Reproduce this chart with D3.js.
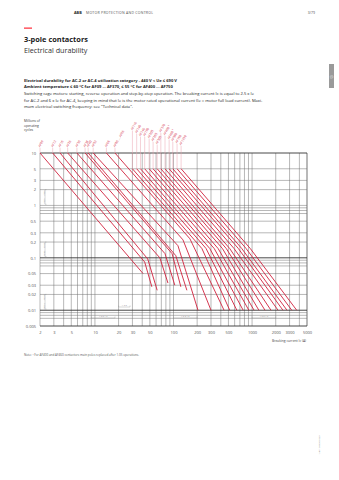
<!DOCTYPE html>
<html><head><meta charset="utf-8">
<script src="https://cdn.jsdelivr.net/npm/d3@7/dist/d3.min.js"></script>
<style>
body{margin:0;background:#fff}
svg{display:block}
text{font-family:"Open Sans","Noto Sans",sans-serif}
</style>
</head><body>
<svg id="chart" width="339" height="480"></svg>
<script>
// ---------- data ----------
const contactorsA = ["AF09","AF12","AF16","AF26","AF30","AF38","AF40","AF52","AF65","AF80 ... AF96"];
const curvesA = [
  [[2,10],[41,0.05]],
  [[2.9,10],[43,0.083],[53,0.028]],
  [[3.6,10],[47,0.095],[62,0.024]],
  [[4.5,10],[67,0.1],[85,0.033]],
  [[5.9,10],[78,0.12],[104,0.03]],
  [[7.5,10],[96,0.12],[124,0.028]],
  [[8.2,10],[107,0.11],[148,0.024]],
  [[9.5,10],[114,0.17],[205,0.01]],
  [[14,10],[132,0.22],[300,0.01]],
  [[18,10],[162,0.23],[440,0.01]]
];
const contactorsB = ["AF116","AF140","AF146","AF190","AF205","AF265","AF305","AF370","AF400 ¹","AF460 ¹","AF580","AF750","AF1350"];
const curvesB = [
  [[30,5],[230,0.15],[520,0.01]],
  [[34,5],[260,0.15],[640,0.01]],
  [[38,5],[290,0.15],[770,0.01]],
  [[43,5],[330,0.15],[910,0.01]],
  [[49,5],[370,0.15],[1060,0.01]],
  [[55,5],[420,0.15],[1220,0.01]],
  [[62,5],[470,0.15],[1460,0.01]],
  [[69,5],[520,0.15],[1740,0.01]],
  [[78,5],[590,0.15],[2140,0.01]],
  [[88,5],[670,0.15],[2470,0.01]],
  [[98,5],[740,0.15],[2780,0.01]],
  [[111,5],[840,0.15],[3200,0.01]],
  [[125,5],[950,0.15],[3700,0.01]]
];
const yTickLabels = [10,5,3,2,1,0.5,0.3,0.2,0.1,0.05,0.03,0.02,0.01,0.005];
const yGridExtra = [0.9,0.8,0.7,0.09,0.08,0.07,0.009,0.008,0.007];
const yGridStrong = [10,0.1,0.01,0.005];
const xTickLabels = [2,3,5,10,20,30,50,100,200,300,500,1000,2000,3000,5000];
const xGrid = [2,3,4,5,6,7,8,9,10,20,30,40,50,60,70,80,90,100,200,300,400,500,600,700,800,900,1000,2000,3000,4000,5000];

// ---------- layout ----------
const svg = d3.select("#chart");
const RED = "#d0213d", PINK = "#eba3ae", GRID = "#707070";
const X0 = 40, X1 = 307, Y0 = 153, Y1 = 326;
const x = d3.scaleLog().domain([2,5000]).range([X0,X1]);
const y = d3.scaleLog().domain([0.005,10]).range([Y1,Y0]);

// header
svg.append("text").attr("x",74).attr("y",14).attr("font-size",3.8).attr("font-weight",700).attr("fill","#222").text("ABB");
svg.append("text").attr("x",86).attr("y",14).attr("font-size",3.5).attr("fill","#555").attr("letter-spacing",0.25).text("MOTOR PROTECTION AND CONTROL");
svg.append("text").attr("x",315).attr("y",14).attr("font-size",3.5).attr("fill","#555").attr("text-anchor","end").text("3/79");
svg.append("rect").attr("x",24).attr("y",27.6).attr("width",8).attr("height",1).attr("fill","#ff000f");
svg.append("text").attr("x",24).attr("y",41.5).attr("font-size",7.4).attr("font-weight",700).attr("fill","#1a1a1a").text("3-pole contactors");
svg.append("text").attr("x",24).attr("y",52.5).attr("font-size",7.2).attr("fill","#333").text("Electrical durability");
svg.append("rect").attr("x",329).attr("y",64).attr("width",5).attr("height",24).attr("fill","#9a9a9a");
svg.append("text").attr("transform","translate(332.6,77) rotate(-90)").attr("font-size",2.6).attr("fill","#fff").attr("text-anchor","middle").text("03");

// description paragraph
const para = [
  ["Electrical durability for AC-2 or AC-4 utilization category - 440 V < Ue ≤ 690 V",700],
  ["Ambient temperature ≤ 60 °C for AF09 ... AF370, ≤ 55 °C for AF400 ... AF750",700],
  ["Switching cage motors: starting, reverse operation and step-by-step operation. The breaking current Ic is equal to 2.5 x Ie",400],
  ["for AC-2 and 6 x Ie for AC-4, keeping in mind that Ie is the motor rated operational current (Ie = motor full load current). Maxi-",400],
  ["mum electrical switching frequency: see \"Technical data\".",400]
];
para.forEach((p,i)=>{
  svg.append("text").attr("x",24).attr("y",81.5+i*6.7).attr("font-size",4.1)
    .attr("font-weight",p[1]).attr("fill","#222").text(p[0]);
});

// y-axis title
["Millions of","operating","cycles"].forEach((t,i)=>{
  svg.append("text").attr("x",24).attr("y",122+i*4.6).attr("font-size",3.3).attr("fill","#333").text(t);
});

// ---------- grid ----------
const g = svg.append("g");
g.append("g").selectAll("line").data(xGrid).join("line")
  .attr("x1",d=>x(d)).attr("x2",d=>x(d)).attr("y1",Y0).attr("y2",Y1)
  .attr("stroke",d=>d===5000?"#a8a8a8":GRID).attr("stroke-width",d=>d===5000?1.6:0.5);
const yGrid = yTickLabels.concat(yGridExtra);
g.append("g").selectAll("line").data(yGrid).join("line")
  .attr("x1",X0).attr("x2",X1).attr("y1",d=>y(d)).attr("y2",d=>y(d))
  .attr("stroke",d=>yGridStrong.includes(d)?"#333":GRID)
  .attr("stroke-width",d=>yGridStrong.includes(d)?0.9:0.5);

// axes (labels)
const fmt = d=>String(d);
const ya = svg.append("g").attr("transform",`translate(${X0-3},0)`)
  .call(d3.axisLeft(y).tickValues(yTickLabels).tickFormat(fmt).tickSize(0).tickPadding(1));
ya.select(".domain").remove();
ya.selectAll("text").attr("font-size",4).attr("fill","#555").attr("font-family","Open Sans");
const xa = svg.append("g").attr("transform",`translate(0,${Y1+3})`)
  .call(d3.axisBottom(x).tickValues(xTickLabels).tickFormat(fmt).tickSize(0).tickPadding(2));
xa.select(".domain").remove();
xa.selectAll("text").attr("font-size",4).attr("fill","#555").attr("font-family","Open Sans");
svg.append("text").attr("x",306).attr("y",342).attr("font-size",3.3).attr("fill","#444")
  .attr("text-anchor","end").text("Breaking current Ic (A)");

// small bracket annotations
function vBracket(v1,v2,label){
  const a=y(v1), b=y(v2), bx=45;
  svg.append("path").attr("d",`M${bx+1.5},${a}H${bx}V${b}H${bx+1.5}`).attr("fill","none").attr("stroke","#999").attr("stroke-width",0.4);
  svg.append("text").attr("transform",`translate(${bx-0.5},${(a+b)/2}) rotate(-90)`).attr("font-size",2.2).attr("fill","#888").attr("text-anchor","middle").text(label);
}
vBracket(2,1.05,"AF09 ... AF38");
vBracket(0.2,0.105,"AF40 ... AF96");
vBracket(0.02,0.0105,"AF116 ... AF370");
function hBracket(v1,v2,yy,label){
  const a=x(v1), b=x(v2);
  svg.append("path").attr("d",`M${a},${yy-1.5}V${yy}H${b}V${yy-1.5}`).attr("fill","none").attr("stroke","#999").attr("stroke-width",0.4);
  svg.append("text").attr("x",(a+b)/2).attr("y",yy-0.6).attr("font-size",2.2).attr("fill","#888").attr("text-anchor","middle").text(label);
}
hBracket(9,18,318,"1  2  3  4  5");
hBracket(20,28,307,"1  2  3");
hBracket(100,200,318,"1  2  3  4  5");
hBracket(1000,2000,318,"1  2  3  4  5");

// ---------- curves ----------
const line = d3.line().x(d=>x(d[0])).y(d=>y(d[1]));
const curves = svg.append("g");
curvesA.concat(curvesB).forEach(c=>{
  curves.append("path").attr("d",line(c)).attr("fill","none").attr("stroke",RED).attr("stroke-width",0.9);
});

// labels with leaders
const liftB = [131,134,137,137,139,142,145,133,136,140,142,144,146];
contactorsA.forEach((t,i)=>{
  const sx = x(curvesA[i][0][0]);
  svg.append("line").attr("x1",sx).attr("x2",sx).attr("y1",148).attr("y2",Y0).attr("stroke",PINK).attr("stroke-width",0.5);
  svg.append("text").attr("transform",`translate(${sx},147.5) rotate(-60)`).attr("font-size",3.2).attr("fill",RED).text(t);
});
contactorsB.forEach((t,i)=>{
  const sx = x(curvesB[i][0][0]), sy = y(curvesB[i][0][1]);
  const ly = liftB[i];
  svg.append("line").attr("x1",sx).attr("x2",sx).attr("y1",ly).attr("y2",sy).attr("stroke",PINK).attr("stroke-width",0.5);
  svg.append("text").attr("transform",`translate(${sx},${ly-0.5}) rotate(-60)`).attr("font-size",3.2).attr("fill",RED).text(t);
});

// note
svg.append("text").attr("x",24).attr("y",356).attr("font-size",3).attr("fill","#555")
  .text("Note: ¹ For AF400 and AF460 contactors main poles replaced after 1.05 operations.");
svg.append("text").attr("transform","translate(319.5,455) rotate(-90)").attr("font-size",2.4).attr("fill","#888").text("1SBC100000C0201");
</script>
</body></html>
